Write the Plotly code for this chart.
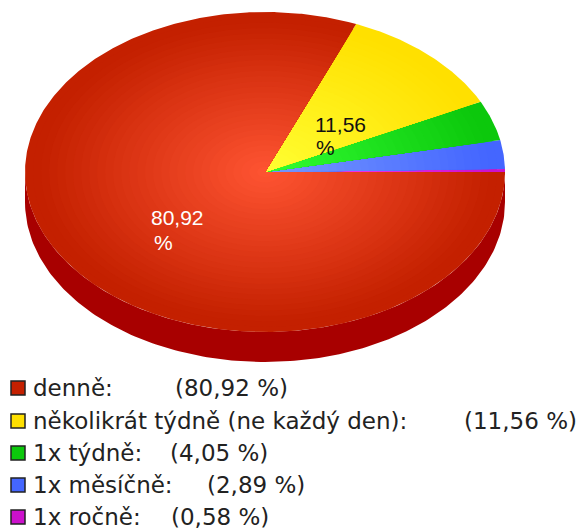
import numpy as np
import plotly.graph_objects as go

categories = ["denně", "několikrát týdně (ne každý den)", "1x týdně", "1x měsíčně", "1x ročně"]
percent_values = [80.92, 11.56, 4.05, 2.89, 0.58]
percent_labels = ["80,92", "11,56", "4,05", "2,89", "0,58"]

# gradient colours of each slice: outer edge, centre
outer_colors = ["#c42000", "#ffe000", "#0cc80c", "#4466ff", "#cc11cc"]
inner_colors = ["#ff5533", "#ffff33", "#33ff33", "#7799ff", "#ff44ff"]
swatch_colors = ["#c42000", "#ffe000", "#0cc80c", "#4466ff", "#cc11cc"]
side_color = "#a80000"

CX, CY, RX, RY = 265, 172, 240, 160
DEPTH = 30
RINGS = 30
ROTATION = -1.0  # degrees, the source pie sits slightly rotated


def hex_rgb(color):
    return np.array([int(color[i:i + 2], 16) for i in (1, 3, 5)], dtype=float)


def mix(outer, inner, t):
    r, g, b = hex_rgb(outer) * t + hex_rgb(inner) * (1 - t)
    return f"rgb({r:.0f},{g:.0f},{b:.0f})"


def wedge(a0, a1, scale):
    # a0, a1 in degrees measured counter-clockwise from 3 o'clock
    t = np.radians(np.linspace(a0, a1, max(int(abs(a1 - a0)) * 2, 4)))
    x = CX + RX * scale * np.cos(t)
    y = CY - RY * scale * np.sin(t)
    return [CX, *x, CX], [CY, *y, CY]


fig = go.Figure()

# side of the disc
t = np.radians(np.linspace(0, 180, 181))
side_x = CX + RX * np.cos(t)
side_y = CY + RY * np.sin(t)
fig.add_trace(go.Scatter(
    x=[*side_x, *side_x[::-1]],
    y=[*(side_y + DEPTH), *side_y[::-1]],
    fill="toself", fillcolor=side_color, mode="lines",
    line=dict(width=0), hoverinfo="skip",
))

# slice angles, clockwise from 3 o'clock
ends = np.cumsum(percent_values) * 3.6
starts = ends - np.array(percent_values) * 3.6

# smallest slice first, the red one last so that it trims the purple sliver
for i in reversed(range(len(categories))):
    a0 = ROTATION - starts[i]
    a1 = ROTATION - ends[i]
    if i == 0:
        a0 += 1.0
    for k in range(RINGS):
        scale = 1 - k / RINGS
        x, y = wedge(a0, a1, scale)
        fig.add_trace(go.Scatter(
            x=x, y=y, fill="toself", mode="lines",
            fillcolor=mix(outer_colors[i], inner_colors[i], min(scale / 0.95, 1)),
            line=dict(width=0), hoverinfo="skip",
        ))

# legend swatches
legend_y = [388, 421, 453, 485, 517]
fig.add_trace(go.Scatter(
    x=[18] * 5, y=legend_y, mode="markers", hoverinfo="skip",
    marker=dict(symbol="square", size=14, color=swatch_colors,
                line=dict(color="#222222", width=1.5)),
))

text_font = dict(family="DejaVu Sans", size=23, color="#222222")
percent_x = [173, 462, 168, 205, 169]
for name, label, py, px in zip(categories, percent_labels, legend_y, percent_x):
    fig.add_annotation(x=31, y=py, text=f"{name}:", showarrow=False,
                       xanchor="left", yanchor="middle", font=text_font)
    fig.add_annotation(x=px, y=py, text=f"({label} %)", showarrow=False,
                       xanchor="left", yanchor="middle", font=text_font)

# labels on the slices
white_font = dict(family="Liberation Sans", size=21, color="#ffffff")
dark_font = dict(family="Liberation Sans", size=21, color="#111111")
fig.add_annotation(x=149, y=217, text=percent_labels[0], showarrow=False, xanchor="left", font=white_font)
fig.add_annotation(x=152, y=242, text="%", showarrow=False, xanchor="left", font=white_font)
fig.add_annotation(x=313, y=124, text=percent_labels[1], showarrow=False, xanchor="left", font=dark_font)
fig.add_annotation(x=314, y=147, text="%", showarrow=False, xanchor="left", font=dark_font)

fig.update_layout(
    width=579, height=529,
    margin=dict(l=0, r=0, t=0, b=0),
    paper_bgcolor="white", plot_bgcolor="white",
    showlegend=False,
    xaxis=dict(range=[0, 579], visible=False, fixedrange=True),
    yaxis=dict(range=[529, 0], visible=False, fixedrange=True),
)

# the page body would otherwise push the figure 8px in
fig.write_html(
    "out.html",
    config=dict(displayModeBar=False),
    post_script="document.body.style.margin = '0'; document.documentElement.style.overflow = 'hidden';",
)
